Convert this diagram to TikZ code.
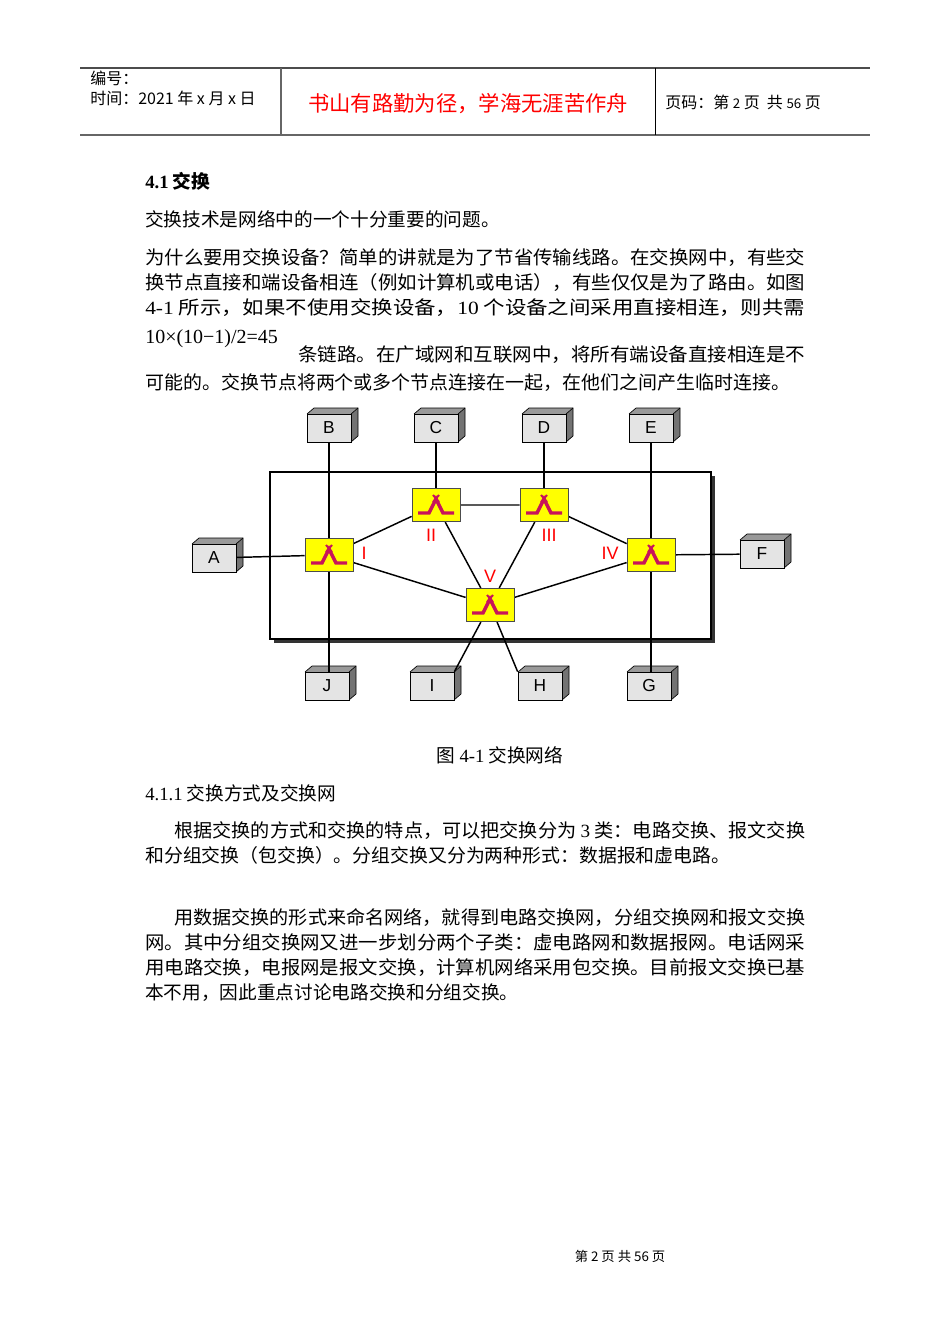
\documentclass[tikz,border=0pt]{standalone}
\usepackage{fontspec}
\usepackage{graphicx}
\setmainfont{Liberation Serif}
\newfontfamily\cjk{Noto Sans CJK SC}
\newfontfamily\hv{Liberation Sans}
\definecolor{sw}{RGB}{255,255,0}
\definecolor{mag}{RGB}{200,20,90}
\definecolor{dev}{RGB}{228,228,228}
\newcommand\jl[4]{\node[anchor=base west,inner sep=0] at (#1,#2) {\setbox0\hbox{#4}\pgfmathsetmacro\myr{(#3*0.75)/(\the\wd0)}\scalebox{\myr}[1]{\box0}};}
\newcommand\nl[3]{\node[anchor=base west,inner sep=0] at (#1,#2) {#3};}
\begin{document}
\begin{tikzpicture}[x=0.75pt,y=-0.75pt,
  devbox/.style={draw=black,fill=dev,minimum width=33pt,minimum height=21pt,inner sep=0,font=\hv\fontsize{13}{13}\selectfont,line width=0.6pt},
  swbox/.style={draw=black!70,fill=sw,minimum width=36pt,minimum height=25pt,inner sep=0,line width=0.6pt},
  lbl/.style={text=red,font=\hv\fontsize{13.5}{13.5}\selectfont,inner sep=0},
  ln/.style={line width=1.1pt}]
\useasboundingbox (0,0) rectangle (950,1344);
\fill[white] (0,0) rectangle (950,1344);
% header
\draw[line width=0.8pt,black!70] (80,68) -- (870,68);
\draw[line width=1.2pt,black!60] (80,135) -- (870,135);
\draw[line width=0.8pt,black!60] (281,68) -- (281,135);
\draw[line width=0.6pt] (655,68) -- (655,135);
\begin{scope}[every node/.style={font=\cjk\fontsize{12}{12}\selectfont}]
\nl{90}{85}{编号：}
\nl{90}{105}{时间：2021 年 x 月 x 日}
\nl{665}{109}{页码：第 {\fontsize{10}{10}\selectfont 2} 页\ \ 共 {\fontsize{10}{10}\selectfont 56} 页}
\end{scope}
\node[text=red,font=\cjk\fontsize{16}{16}\selectfont,inner sep=0] at (468,104) {书山有路勤为径，学海无涯苦作舟};
% body text
\begin{scope}[every node/.style={font=\cjk\fontsize{14}{14}\selectfont}]
\nl{145}{189}{\textbf{\fontspec{Liberation Serif}4.1} \textbf{交换}}
\nl{145}{227}{交换技术是网络中的一个十分重要的问题。}
\jl{145}{265}{660}{为什么要用交换设备？简单的讲就是为了节省传输线路。在交换网中，有些交}
\jl{145}{290}{660}{换节点直接和端设备相连（例如计算机或电话），有些仅仅是为了路由。如图}
\jl{145}{315}{660}{{\fontspec{Liberation Serif}4-1} 所示，如果不使用交换设备，{\fontspec{Liberation Serif}10} 个设备之间采用直接相连，则共需}
\nl{145}{343}{{\fontspec{Liberation Serif}\fontsize{15}{15}\selectfont 10×(10−1)/2=45}}
\jl{298}{361}{507}{条链路。在广域网和互联网中，将所有端设备直接相连是不}
\jl{145}{389}{645}{可能的。交换节点将两个或多个节点连接在一起，在他们之间产生临时连接。}
\node[anchor=base] at (500,762) {图 {\fontspec{Liberation Serif}4-1} 交换网络};
\nl{145}{800}{{\fontspec{Liberation Serif}4.1.1} 交换方式及交换网}
\jl{174}{837}{631}{根据交换的方式和交换的特点，可以把交换分为 {\fontspec{Liberation Serif}3} 类：电路交换、报文交换}
\jl{145}{862}{585}{和分组交换（包交换）。分组交换又分为两种形式：数据报和虚电路。}
\jl{174}{924}{631}{用数据交换的形式来命名网络，就得到电路交换网，分组交换网和报文交换}
\jl{145}{949}{660}{网。其中分组交换网又进一步划分两个子类：虚电路网和数据报网。电话网采}
\jl{145}{974}{660}{用电路交换，电报网是报文交换，计算机网络采用包交换。目前报文交换已基}
\nl{145}{999}{本不用，因此重点讨论电路交换和分组交换。}
\end{scope}
\node[font=\cjk\fontsize{10}{10}\selectfont] at (620,1256) {第 2 页 共 56 页};
% diagram frame
\fill[black!80] (274,476) rectangle (715,643);
\draw[fill=white,line width=0.8pt] (270,472) rectangle (711,639);
% devices
\foreach \n/\t/\x/\y in {dB/B/329/428,dC/C/436/428,dD/D/544/428,dE/E/651/428,dA/A/214/558,dF/F/762/554,dJ/J/327/686,dI/I/432/686,dH/H/540/686,dG/G/649/686}{
  \fill[black!55] (\x+22,\y-14) -- (\x+29,\y-20) -- (\x+29,\y+8) -- (\x+22,\y+14) -- cycle;
  \fill[black!40] (\x-22,\y-14) -- (\x-15,\y-20) -- (\x+29,\y-20) -- (\x+22,\y-14) -- cycle;
  \draw[line width=0.5pt] (\x-22,\y-14) -- (\x-15,\y-20) -- (\x+29,\y-20) -- (\x+29,\y+8) -- (\x+22,\y+14);
  \draw[line width=0.5pt] (\x+22,\y-14) -- (\x+29,\y-20);
  \node[devbox] (\n) at (\x,\y) {\t};
}
% switches
\foreach \n/\x/\y in {s1/329/555,s2/436/505,s3/544/505,s4/651/555,s5/490/605}{
  \node[swbox] (\n) at (\x,\y) {};
}
% links
\draw[ln] (s1.center |- dB.south) -- (s1) -- (s1.center |- dJ.north);
\draw[ln] (dA) -- (s1);
\draw[ln] (dC) -- (s2);
\draw[ln] (dD) -- (s3);
\draw[ln] (s4.center |- dE.south) -- (s4) -- (s4.center |- dG.north);
\draw[ln] (s4) -- (dF);
\draw[ln] (s1) -- (s2) -- (s3) -- (s4) -- (s5) -- (s1);
\draw[ln] (s2) -- (s5) -- (s3);
\draw[ln] (s5) -- (dI.north east);
\draw[ln] (s5) -- (dH.north west);
% redraw switches on top with icons
\foreach \n/\x/\y in {s1/329/555,s2/436/505,s3/544/505,s4/651/555,s5/490/605}{
  \node[swbox] at (\x,\y) {};
  \draw[mag,line width=2.6pt,line join=miter] (\x-18,\y+8) -- (\x-7,\y+8) -- (\x,\y-6) -- (\x+7,\y+8) -- (\x+18,\y+8);
  \draw[mag,line width=1.5pt] (\x-3,\y-10) -- (\x+3,\y-3) (\x+3,\y-10) -- (\x-3,\y-3);
}
\node[lbl] at (364,553) {I};
\node[lbl] at (431,535) {II};
\node[lbl] at (549,535) {III};
\node[lbl] at (610,553) {IV};
\node[lbl] at (490,576) {V};
\end{tikzpicture}
\end{document}
